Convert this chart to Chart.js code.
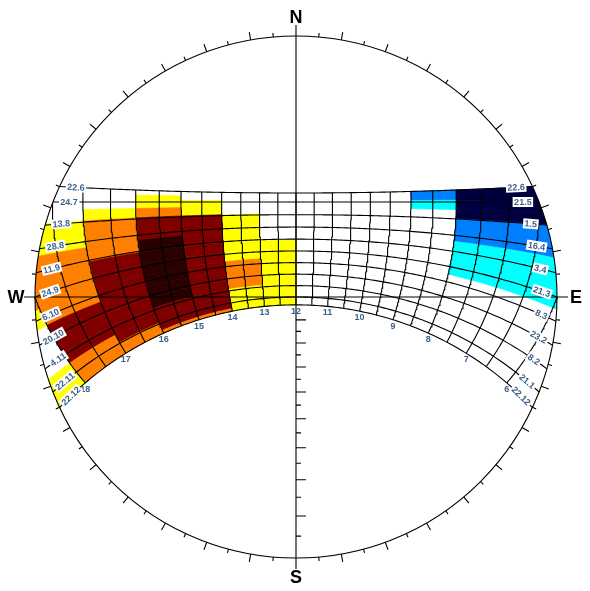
<!DOCTYPE html>
<html><head><meta charset="utf-8">
<script src="https://cdn.jsdelivr.net/npm/chart.js@4/dist/chart.umd.min.js"></script>
<style>html,body{margin:0;padding:0;background:#fff;}#wrap{width:590px;height:591px;position:relative;}</style>
</head><body><div id="wrap"><canvas id="c"></canvas></div>
<script>
// ---------------- data ----------------
const latitude = -20;
const dateDecl = [23.45, 20, 15, 10, 5, 0, -5, -10, -15, -20, -23.45];
const pmDateLabels = ['22.6','24.7','13.8','28.8','11.9','24.9','6.10','20.10','4.11','22.11','22.12'];
const amDateLabels = ['22.6','21.5','1.5','16.4','3.4','21.3','8.3','23.2','8.2','21.1','22.12'];
const hourLines = [6,6.5,7,7.5,8,8.5,9,9.5,10,10.5,11,11.5,12,12.5,13,13.5,14,14.5,15,15.5,16,16.5,17,17.5,18];
const hourLabelHours = [6,7,8,9,10,11,12,13,14,15,16,17,18];
const hourLabels = ['6','7','8','9','10','11','12','13','14','15','16','17','18'];
const compassLabels = ['N','E','S','W'];

// afternoon (Jul-Dec) shading: declination breaks (top to bottom), hour column edges, levels per row/column
const pmBreaks = [23.45, 22.0, 20.5, 18.1, 15.3, 8.4, 4.6, 0.7, -3.0, -6.9, -10.6, -14.3, -17.3, -19.8, -22.4, -23.45];
const pmColumns = [12, 13, 14, 15, 16, 17, 18, 19];
const pmLevels = [
  [0,0,0,0,0,0,0],
  [0,0,0,1,0,0,0],
  [0,0,1,1,0,0,0],
  [0,0,1,2,1,0,0],
  [0,1,3,3,2,1,0],
  [0,1,3,4,2,2,0],
  [1,1,3,4,3,2,0],
  [1,1,3,4,3,2,2],
  [1,2,3,4,3,2,1],
  [1,2,3,4,3,3,0],
  [1,2,3,4,3,3,0],
  [1,1,3,3,3,3,0],
  [1,1,3,3,3,2,1],
  [1,1,3,3,2,2,1],
  [1,1,2,2,2,2,1]
];
// morning (Jan-Jun) shading
const amBreaks = [23.45, 20.5, 17.8, 15.0, 8.1, -2.5, -23.45];
const amColumns = [12, 11, 10, 9, 8, 7, 6, 5];
const amLevels = [
  [0,0,0,-2,-3,-3,-3],
  [0,0,0,-1,-3,-3,-3],
  [0,0,0,0,-3,-3,-3],
  [0,0,0,0,-2,-2,-2],
  [0,0,0,0,-1,-1,-1],
  [0,0,0,0,0,0,0]
];
const levelColors = {'-3':'#000040','-2':'#0080ff','-1':'#00ffff','1':'#ffff00','2':'#ff8000','3':'#800000','4':'#2b0000'};

// ---------------- geometry ----------------
const D2R = Math.PI / 180;
const F = latitude * D2R;
function project(t, dec) {
  const H = (t - 12) * 15 * D2R, d = dec * D2R;
  const sinAlt = Math.sin(F) * Math.sin(d) + Math.cos(F) * Math.cos(d) * Math.cos(H);
  const alt = Math.asin(Math.max(-1, Math.min(1, sinAlt)));
  const east = -Math.cos(d) * Math.sin(H);
  const north = Math.sin(d) * Math.cos(F) - Math.cos(d) * Math.sin(F) * Math.cos(H);
  const az = Math.atan2(east, north);
  const r = Math.tan((Math.PI / 2 - alt) / 2);
  return { x: r * Math.sin(az), y: r * Math.cos(az) };
}
function halfDay(dec) {
  const c = -Math.tan(F) * Math.tan(dec * D2R);
  return Math.acos(Math.max(-1, Math.min(1, c))) / D2R / 15;
}
function maxDecl(t) {
  const H = (t - 12) * 15 * D2R;
  return Math.atan(Math.cos(F) * Math.cos(H) / (-Math.sin(F))) / D2R;
}

const datasets = [];
dateDecl.forEach(dec => {
  const hd = halfDay(dec), pts = [];
  const n = 160;
  for (let k = 0; k <= n; k++) pts.push(project(12 - hd + 2 * hd * k / n, dec));
  datasets.push({ data: pts });
});
hourLines.forEach(t => {
  const top = Math.min(dateDecl[0], maxDecl(t)), bot = dateDecl[dateDecl.length - 1];
  const pts = [], n = 60;
  for (let k = 0; k <= n; k++) pts.push(project(t, bot + (top - bot) * k / n));
  datasets.push({ data: pts });
});
datasets.forEach(ds => Object.assign(ds, { showLine: true, fill: false, borderColor: '#000', borderWidth: 1.1, pointRadius: 0, tension: 0 }));

function toPx(chart, p) {
  return [chart.scales.x.getPixelForValue(p.x), chart.scales.y.getPixelForValue(p.y)];
}
function circleInfo(chart) {
  const c = toPx(chart, { x: 0, y: 0 });
  const e = toPx(chart, { x: 1, y: 0 });
  return { cx: c[0], cy: c[1], R: e[0] - c[0] };
}

const cellPlugin = {
  id: 'cells',
  beforeDatasetsDraw(chart) {
    const ctx = chart.ctx, { cx, cy, R } = circleInfo(chart);
    ctx.save();
    ctx.beginPath(); ctx.arc(cx, cy, R, 0, Math.PI * 2); ctx.clip();
    const drawSide = (breaks, cols, levels) => {
      for (let i = 0; i < levels.length; i++) for (let j = 0; j < levels[i].length; j++) {
        const lv = levels[i][j]; if (!lv) continue;
        const d1 = breaks[i], d2 = breaks[i + 1], t1 = cols[j], t2 = cols[j + 1];
        const pts = [], n = 16;
        for (let k = 0; k <= n; k++) pts.push(project(t1 + (t2 - t1) * k / n, d1));
        for (let k = 0; k <= n; k++) pts.push(project(t2, d1 + (d2 - d1) * k / n));
        for (let k = 0; k <= n; k++) pts.push(project(t2 + (t1 - t2) * k / n, d2));
        for (let k = 0; k <= n; k++) pts.push(project(t1, d2 + (d1 - d2) * k / n));
        ctx.beginPath();
        pts.forEach((p, k) => { const q = toPx(chart, p); k ? ctx.lineTo(q[0], q[1]) : ctx.moveTo(q[0], q[1]); });
        ctx.closePath();
        ctx.fillStyle = levelColors[lv]; ctx.strokeStyle = levelColors[lv]; ctx.lineWidth = 0.8;
        ctx.fill(); ctx.stroke();
      }
    };
    drawSide(pmBreaks, pmColumns, pmLevels);
    drawSide(amBreaks, amColumns, amLevels);
    ctx.restore();
  }
};

const framePlugin = {
  id: 'frame',
  afterDatasetsDraw(chart) {
    const ctx = chart.ctx, { cx, cy, R } = circleInfo(chart);
    ctx.save();
    ctx.strokeStyle = '#000'; ctx.lineWidth = 1.1;
    // axes
    ctx.beginPath();
    ctx.moveTo(cx, cy - R - 11); ctx.lineTo(cx, cy + R + 11);
    ctx.moveTo(cx - R - 11, cy); ctx.lineTo(cx + R + 11, cy);
    ctx.stroke();
    // horizon circle
    ctx.beginPath(); ctx.arc(cx, cy, R, 0, Math.PI * 2); ctx.stroke();
    // azimuth ticks
    ctx.beginPath();
    for (let a = 5; a < 360; a += 5) {
      if (a % 90 === 0) continue;
      const len = a % 10 === 0 ? 8 : 4, s = Math.sin(a * D2R), c = Math.cos(a * D2R);
      ctx.moveTo(cx + R * s, cy - R * c); ctx.lineTo(cx + (R + len) * s, cy - (R + len) * c);
    }
    ctx.stroke();
    // altitude ticks along south radius
    ctx.beginPath();
    for (let alt = 80; alt >= 5; alt -= 5) {
      const y = cy + R * Math.tan((90 - alt) * D2R / 2), len = alt % 10 === 0 ? 10 : 5;
      ctx.moveTo(cx, y); ctx.lineTo(cx + len, y);
    }
    ctx.stroke();
    // hour labels
    ctx.font = 'bold 9px Arial, "Liberation Sans", sans-serif';
    ctx.textAlign = 'center'; ctx.textBaseline = 'middle';
    ctx.fillStyle = '#3d6189';
    hourLabelHours.forEach((t, i) => {
      const q = toPx(chart, project(t, dateDecl[dateDecl.length - 1]));
      ctx.fillText(hourLabels[i], q[0], q[1] + 6.5);
    });
    // date labels
    const target = 1 - 15 / R;
    const drawDateLabel = (dec, txt, sign) => {
      const hd = halfDay(dec);
      let t = 12 + sign * hd;
      for (let k = 0; k < 2000; k++) {
        const p = project(t, dec);
        if (Math.hypot(p.x, p.y) <= target) break;
        t -= sign * 0.002;
      }
      const q = toPx(chart, project(t, dec));
      const qa = toPx(chart, project(t - 0.03, dec)), qb = toPx(chart, project(t + 0.03, dec));
      let ang = Math.atan2(qb[1] - qa[1], qb[0] - qa[0]);
      if (ang > Math.PI / 2) ang -= Math.PI; if (ang < -Math.PI / 2) ang += Math.PI;
      ctx.save();
      ctx.translate(q[0], q[1]); ctx.rotate(ang);
      const w = ctx.measureText(txt).width;
      ctx.fillStyle = '#fff'; ctx.fillRect(-w / 2 - 1.5, -5, w + 3, 10);
      ctx.fillStyle = '#3d6189'; ctx.fillText(txt, 0, 0.5);
      ctx.restore();
    };
    dateDecl.forEach((dec, i) => {
      drawDateLabel(dec, pmDateLabels[i], 1);
      drawDateLabel(dec, amDateLabels[i], -1);
    });
    // compass labels
    ctx.font = 'bold 18px Arial, "Liberation Sans", sans-serif';
    ctx.fillStyle = '#000';
    const off = 19;
    [[0, -1], [1, 0], [0, 1], [-1, 0]].forEach((v, i) => {
      ctx.fillText(compassLabels[i], cx + v[0] * (R + off), cy + v[1] * (R + off) + 1);
    });
    ctx.restore();
  }
};

new Chart(document.getElementById('c'), {
  type: 'scatter',
  data: { datasets },
  options: {
    responsive: true, maintainAspectRatio: false, animation: false,
    layout: { padding: 0 },
    plugins: { legend: { display: false }, tooltip: { enabled: false } },
    scales: {
      x: { type: 'linear', display: false, min: -296 / 261, max: 294 / 261 },
      y: { type: 'linear', display: false, min: -294 / 261, max: 297 / 261 }
    }
  },
  plugins: [cellPlugin, framePlugin]
});
</script></body></html>
